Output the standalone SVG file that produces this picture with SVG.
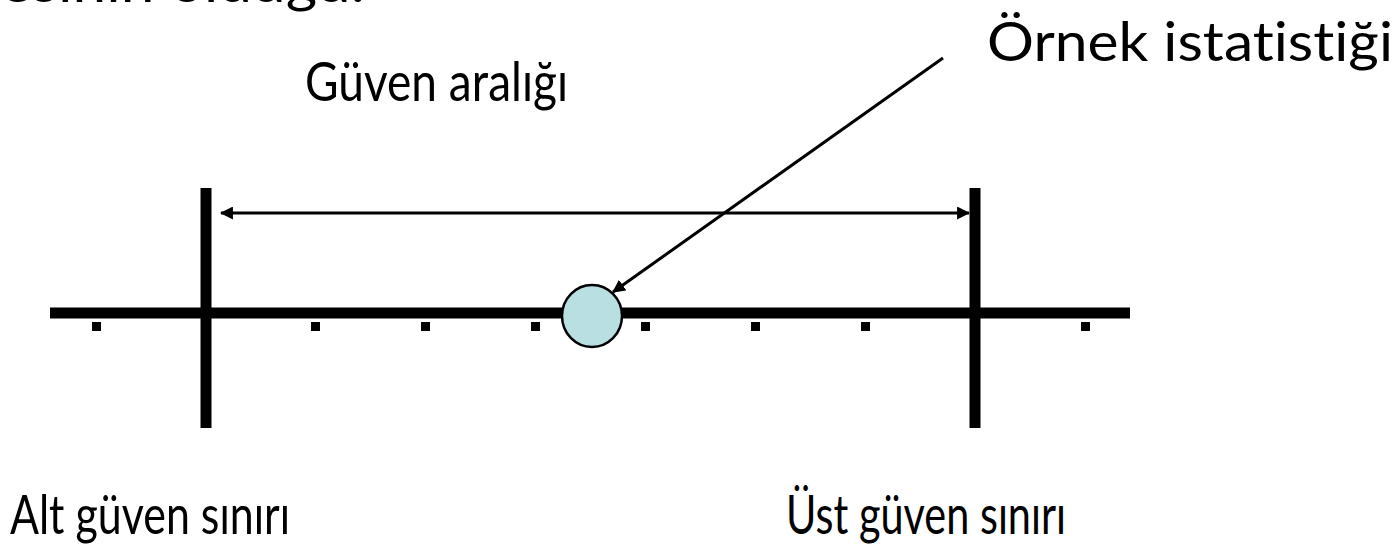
<svg xmlns="http://www.w3.org/2000/svg" width="1398" height="549" viewBox="0 0 1398 549">
<style>
.t{font-family:"Lato","Open Sans","Liberation Sans",sans-serif;font-size:55px;fill:#000;font-variant-ligatures:none;font-feature-settings:"liga" 0}
.thick{stroke:#000;stroke-width:11;fill:none}
.thin{stroke:#000;stroke-width:3;fill:none}
.tick{fill:#000}
</style>
<defs>
<marker id="ah" viewBox="0 0 12 12" refX="11" refY="6" markerWidth="13" markerHeight="13" markerUnits="userSpaceOnUse" orient="auto-start-reverse">
<path d="M0,0 L12,6 L0,12 z" fill="#000"/>
</marker>
</defs>
<rect width="1398" height="549" fill="#fff"/>
<g id="top-text"><text class="t" x="0" y="2" textLength="365" lengthAdjust="spacingAndGlyphs">esinin olduğu.</text></g>
<g id="label-interval"><text class="t" x="305" y="101" textLength="263" lengthAdjust="spacingAndGlyphs">Güven aralığı</text></g>
<g id="label-sample"><text class="t" x="987" y="61" textLength="406" lengthAdjust="spacingAndGlyphs">Örnek istatistiği</text></g>
<g id="label-lower"><text class="t" x="10" y="534" textLength="280" lengthAdjust="spacingAndGlyphs">Alt güven sınırı</text></g>
<g id="label-upper"><text class="t" x="786" y="534" textLength="280" lengthAdjust="spacingAndGlyphs">Üst güven sınırı</text></g>
<g id="axis">
<line class="thick" x1="50" y1="313" x2="1130" y2="313"/>
<rect class="tick" x="92" y="322" width="9" height="9"/>
<rect class="tick" x="201" y="322" width="9" height="9"/>
<rect class="tick" x="311" y="322" width="9" height="9"/>
<rect class="tick" x="421" y="322" width="9" height="9"/>
<rect class="tick" x="531" y="322" width="9" height="9"/>
<rect class="tick" x="641" y="322" width="9" height="9"/>
<rect class="tick" x="751" y="322" width="9" height="9"/>
<rect class="tick" x="861" y="322" width="9" height="9"/>
<rect class="tick" x="971" y="322" width="9" height="9"/>
<rect class="tick" x="1081" y="322" width="9" height="9"/>
</g>
<g id="lower-limit"><line class="thick" x1="206" y1="188" x2="206" y2="428"/></g>
<g id="upper-limit"><line class="thick" x1="975" y1="188" x2="975" y2="428"/></g>
<g id="sample-stat"><ellipse cx="592" cy="316" rx="30" ry="31" fill="#b9dfe2" stroke="#000" stroke-width="2.5"/></g>
<g id="connectors">
<line class="thin" x1="221" y1="213" x2="969" y2="213" marker-start="url(#ah)" marker-end="url(#ah)"/>
<line class="thin" x1="943" y1="58" x2="613" y2="292" marker-end="url(#ah)"/>
</g>
</svg>
